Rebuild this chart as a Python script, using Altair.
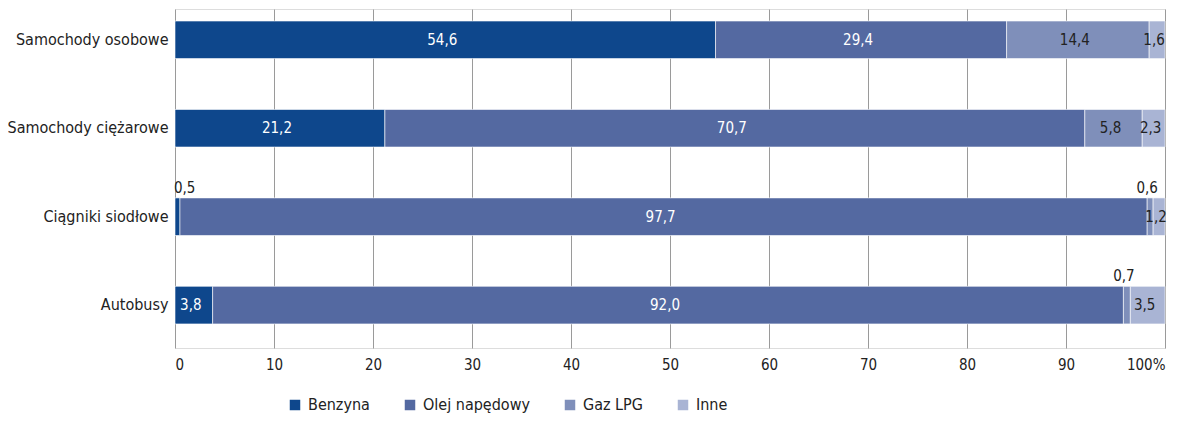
import altair as alt
import pandas as pd

categories = ["Samochody osobowe", "Samochody ciężarowe", "Ciągniki siodłowe", "Autobusy"]
series = ["Benzyna", "Olej napędowy", "Gaz LPG", "Inne"]
benzyna = [54.6, 21.2, 0.5, 3.8]
olej = [29.4, 70.7, 97.7, 92.0]
lpg = [14.4, 5.8, 0.6, 0.7]
inne = [1.6, 2.3, 1.2, 3.5]
colors = ["#0e478c", "#5469a1", "#7f8fba", "#a9b4d4"]
x_ticks = [0, 10, 20, 30, 40, 50, 60, 70, 80, 90, 100]

FONT = "Liberation Sans Narrow, DejaVu Sans Condensed, Roboto, sans-serif"

rows = []
for ci, cat in enumerate(categories):
    start = 0.0
    for si, (s, vals) in enumerate(zip(series, [benzyna, olej, lpg, inne])):
        v = vals[ci]
        rows.append({
            "cat": cat, "series": s, "order": si, "value": v,
            "start": start, "end": start + v, "mid": start + v / 2,
            "label": f"{v:.1f}".replace(".", ","),
            "above": v < 1.0,
            "light": si < 2,
        })
        start += v
df = pd.DataFrame(rows)

y_enc = alt.Y("cat:N", sort=categories, title=None,
              scale=alt.Scale(paddingInner=0.575, paddingOuter=0.204, align=0.333),
              axis=alt.Axis(domain=False, ticks=False, grid=False, labelPadding=7,
                            labelFontSize=16, labelColor="#222222", labelFont=FONT))

bars = alt.Chart(df).mark_bar(stroke="white", strokeWidth=0.6).encode(
    x=alt.X("start:Q", title=None,
            scale=alt.Scale(domain=[0, 100], nice=False, zero=True),
            axis=alt.Axis(values=x_ticks, grid=True, gridColor="#9a9a9a", gridWidth=1,
                          domain=False, ticks=False, labelPadding=9,
                          labelFontSize=15, labelColor="#222222", labelFont=FONT,
                          labelExpr="datum.value == 100 ? '100%' : datum.label")),
    x2="end:Q",
    y=y_enc,
    color=alt.Color("series:N", sort=series,
                    scale=alt.Scale(domain=series, range=colors),
                    legend=alt.Legend(title=None, orient="none", direction="horizontal",
                                      legendX=112, legendY=388, symbolType="square",
                                      symbolSize=110, symbolStrokeWidth=0,
                                      labelFontSize=16, labelFont=FONT, labelColor="#222222",
                                      columnPadding=32, symbolOffset=0, labelOffset=5)),
    order=alt.Order("order:Q"),
)

inside = alt.Chart(df).transform_filter("!datum.above").mark_text(
    fontSize=15, font=FONT, baseline="middle", align="center", dx=-3
).encode(
    x="mid:Q",
    y=alt.Y("cat:N", sort=categories),
    text="label:N",
    color=alt.condition("datum.light", alt.value("white"), alt.value("#222222")),
)

above_left = alt.Chart(df).transform_filter("datum.above && datum.order == 0").mark_text(
    fontSize=15, font=FONT, baseline="middle", align="left", dy=-29, dx=-1, color="#222222"
).encode(
    x="start:Q",
    y=alt.Y("cat:N", sort=categories),
    text="label:N",
)

above_mid = alt.Chart(df).transform_filter("datum.above && datum.order > 0").mark_text(
    fontSize=15, font=FONT, baseline="middle", align="center", dy=-29, dx=-3, color="#222222"
).encode(
    x="mid:Q",
    y=alt.Y("cat:N", sort=categories),
    text="label:N",
)

chart = alt.layer(bars, inside, above_left, above_mid).properties(
    width=990, height=339,
    autosize=alt.AutoSizeParams(type="none"),
    padding={"left": 167, "top": 1, "right": 19, "bottom": 66},
).configure_view(stroke=None).configure(font=FONT)

chart.save("out.html", embed_options={"renderer": "svg", "actions": False})
